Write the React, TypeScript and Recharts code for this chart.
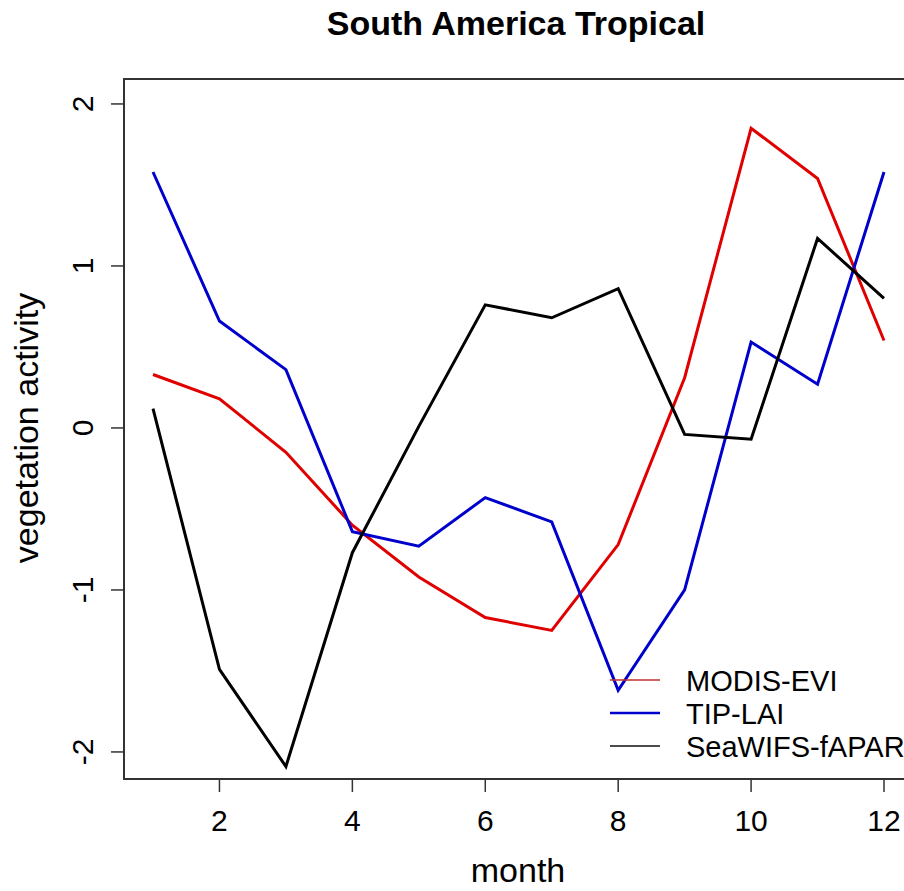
import { LineChart, Line, XAxis, YAxis, Legend, ReferenceArea } from 'recharts';

const months = [1, 2, 3, 4, 5, 6, 7, 8, 9, 10, 11, 12];
const modisEvi = [0.33, 0.18, -0.15, -0.6, -0.92, -1.17, -1.25, -0.72, 0.31, 1.85, 1.54, 0.54];
const tipLai = [1.58, 0.66, 0.36, -0.64, -0.73, -0.43, -0.58, -1.62, -1.0, 0.53, 0.27, 1.58];
const seawifsFapar = [0.12, -1.49, -2.09, -0.77, 0.01, 0.76, 0.68, 0.86, -0.04, -0.07, 1.17, 0.8];
const xTicks = [2, 4, 6, 8, 10, 12];
const yTicks = [-2, -1, 0, 1, 2];

const FONT = '"Liberation Sans", Arial, Helvetica, sans-serif';
const X_DOMAIN: [number, number] = [0.5636, 12.4364];
const Y_DOMAIN: [number, number] = [-2.167, 2.154];

const series = [
  { key: 'modis', name: 'MODIS-EVI', color: '#e00000', legendColor: '#c03030', legendWidth: 1.5 },
  { key: 'tip', name: 'TIP-LAI', color: '#0000cc', legendColor: '#0000cc', legendWidth: 2.5 },
  { key: 'seawifs', name: 'SeaWIFS-fAPAR', color: '#000000', legendColor: '#111111', legendWidth: 1.5 },
];

const chartData = months.map((m, i) => ({
  month: m,
  modis: modisEvi[i],
  tip: tipLai[i],
  seawifs: seawifsFapar[i],
}));

function YTick(props: any) {
  const { x, y, payload } = props;
  return (
    <text
      x={x}
      y={y}
      transform={`rotate(-90 ${x} ${y})`}
      textAnchor='middle'
      fontSize={30}
      fill='#000'
      fontFamily={FONT}
    >
      {payload.value}
    </text>
  );
}

function LegendBox() {
  return (
    <div style={{ fontFamily: FONT, fontSize: 29, color: '#000' }}>
      {series.map((s) => (
        <div key={s.key} style={{ display: 'flex', alignItems: 'center', height: 33, lineHeight: '33px' }}>
          <svg width={80} height={33} style={{ display: 'block' }}>
            <line x1={4} x2={54} y1={15} y2={15} stroke={s.legendColor} strokeWidth={s.legendWidth} />
          </svg>
          <span style={{ whiteSpace: 'nowrap' }}>{s.name}</span>
        </div>
      ))}
    </div>
  );
}

export default function App() {
  return (
    <div
      style={{
        position: 'absolute',
        left: 0,
        top: 0,
        width: 904,
        height: 891,
        overflow: 'hidden',
        background: '#fff',
      }}
    >
      <LineChart
        width={930}
        height={891}
        data={chartData}
        margin={{ top: 79, right: 17, left: 0, bottom: 0 }}
      >
        <XAxis
          dataKey='month'
          type='number'
          domain={X_DOMAIN}
          ticks={xTicks}
          allowDataOverflow
          height={112}
          axisLine={false}
          tickSize={13}
          tickMargin={18}
          tickLine={{ stroke: '#333', strokeWidth: 1.5 }}
          tick={{ fill: '#000', fontSize: 30, fontFamily: FONT }}
        />
        <YAxis
          type='number'
          domain={Y_DOMAIN}
          ticks={yTicks}
          allowDataOverflow
          width={124}
          axisLine={false}
          tickSize={13}
          tickMargin={18}
          tickLine={{ stroke: '#333', strokeWidth: 1.5 }}
          tick={<YTick />}
        />
        <ReferenceArea
          x1={X_DOMAIN[0]}
          x2={X_DOMAIN[1]}
          y1={Y_DOMAIN[0]}
          y2={Y_DOMAIN[1]}
          fill='none'
          fillOpacity={0}
          stroke='#333'
          strokeWidth={2}
          ifOverflow='visible'
        />
        {series.map((s) => (
          <Line
            key={s.key}
            type='linear'
            dataKey={s.key}
            name={s.name}
            stroke={s.color}
            strokeWidth={3}
            strokeLinejoin='miter'
            dot={false}
            activeDot={false}
            isAnimationActive={false}
          />
        ))}
        <Legend
          layout='vertical'
          align='center'
          verticalAlign='middle'
          content={<LegendBox />}
          wrapperStyle={{ position: 'absolute', left: 606, top: 665, width: 300 }}
        />
      </LineChart>
      <svg
        width={904}
        height={891}
        style={{ position: 'absolute', left: 0, top: 0, pointerEvents: 'none' }}
      >
        <text x={516} y={35} textAnchor='middle' fontSize={34} fontWeight='bold' fontFamily={FONT} fill='#000'>
          South America Tropical
        </text>
        <text x={518} y={882} textAnchor='middle' fontSize={34} fontFamily={FONT} fill='#000'>
          month
        </text>
        <text
          x={38}
          y={428}
          transform='rotate(-90 38 428)'
          textAnchor='middle'
          fontSize={34}
          fontFamily={FONT}
          fill='#000'
        >
          vegetation activity
        </text>
      </svg>
    </div>
  );
}
